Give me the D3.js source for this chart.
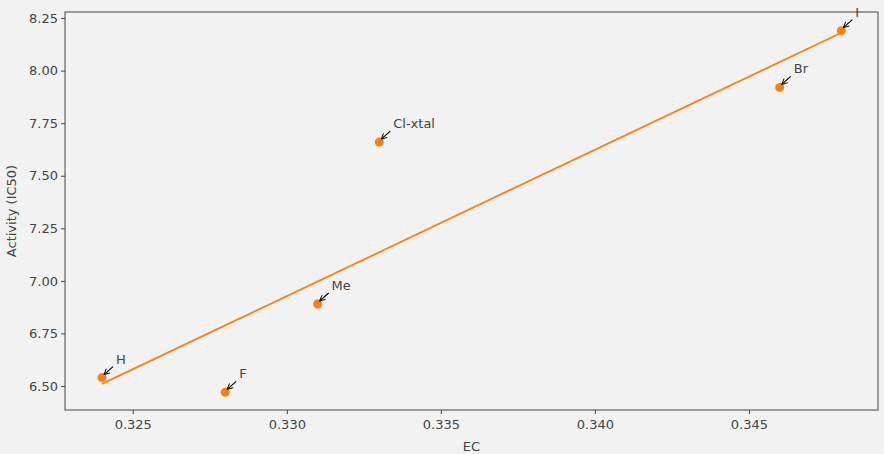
<!DOCTYPE html>
<html><head><meta charset="utf-8">
<script src="https://cdn.jsdelivr.net/npm/d3@7"></script>
<style>body{margin:0;background:#f2f2f2;}svg{display:block;font-family:"DejaVu Sans",sans-serif;}</style>
</head><body><svg id="c" width="884" height="454"></svg>
<script>
const labels = ["H", "F", "Me", "Cl-xtal", "Br", "I"];
const ecValues = [0.324, 0.328, 0.331, 0.333, 0.346, 0.348];
const activity = [6.54, 6.47, 6.89, 7.66, 7.92, 8.19];
const fitX = [0.324, 0.348];
const fitY = [6.51, 8.18];
const xTicks = [0.325, 0.330, 0.335, 0.340, 0.345];
const yTicks = [6.50, 6.75, 7.00, 7.25, 7.50, 7.75, 8.00, 8.25];

const svg = d3.select("#c");
const m = {l: 65, r: 878, t: 12, b: 410};
const x = d3.scaleLinear().domain([0.3228, 0.34919]).range([m.l, m.r]);
const y = d3.scaleLinear().domain([6.386, 8.2786]).range([m.b, m.t]);

const defs = svg.append("defs");
defs.append("marker").attr("id", "ah").attr("viewBox", "0 0 10 10").attr("refX", 9).attr("refY", 5)
  .attr("markerWidth", 7).attr("markerHeight", 7).attr("orient", "auto-start-reverse").attr("markerUnits", "userSpaceOnUse")
  .append("path").attr("d", "M1,1 L9,5 L1,9").attr("fill", "none").attr("stroke", "#000").attr("stroke-width", 1.3);

const gx = svg.append("g").attr("transform", `translate(0,${m.b})`)
  .call(d3.axisBottom(x).tickValues(xTicks).tickFormat(d3.format(".3f")).tickSize(4).tickSizeOuter(0));
const gy = svg.append("g").attr("transform", `translate(${m.l},0)`)
  .call(d3.axisLeft(y).tickValues(yTicks).tickFormat(d3.format(".2f")).tickSize(4).tickSizeOuter(0));
[gx, gy].forEach(g => {
  g.select(".domain").remove();
  g.selectAll("line").attr("stroke", "#444");
  g.selectAll("text").attr("fill", "#444").attr("font-size", 13).attr("font-family", "DejaVu Sans");
});
gx.selectAll("text").attr("dy", "0.95em");

svg.append("rect").attr("x", m.l).attr("y", m.t).attr("width", m.r - m.l).attr("height", m.b - m.t)
  .attr("fill", "none").attr("stroke", "#444").attr("stroke-width", 1);

svg.append("text").attr("x", (m.l + m.r) / 2).attr("y", 451).attr("text-anchor", "middle")
  .attr("font-size", 13).attr("fill", "#444").text("EC");
svg.append("text").attr("transform", `translate(16,${(m.t + m.b) / 2}) rotate(-90)`).attr("text-anchor", "middle")
  .attr("font-size", 13).attr("fill", "#444").text("Activity (IC50)");

svg.append("line").attr("x1", x(fitX[0])).attr("y1", y(fitY[0])).attr("x2", x(fitX[1])).attr("y2", y(fitY[1]))
  .attr("stroke", "#ff7f0e").attr("stroke-width", 1.8);

const data = labels.map((l, i) => ({l, ec: ecValues[i], a: activity[i]}));
svg.selectAll("circle.p").data(data).enter().append("circle")
  .attr("cx", d => x(d.ec)).attr("cy", d => y(d.a)).attr("r", 4.5).attr("fill", "#ff7f0e");

const ann = svg.append("g").selectAll("g").data(data).enter().append("g");
ann.append("line").attr("x1", d => x(d.ec) + 11).attr("y1", d => y(d.a) - 11)
  .attr("x2", d => x(d.ec) + 2).attr("y2", d => y(d.a) - 3)
  .attr("stroke", "#000").attr("stroke-width", 1.2).attr("marker-end", "url(#ah)");
ann.append("text").attr("x", d => x(d.ec) + 14).attr("y", d => y(d.a) - 14)
  .attr("font-size", 13).attr("fill", "#444").text(d => d.l);
</script></body></html>
